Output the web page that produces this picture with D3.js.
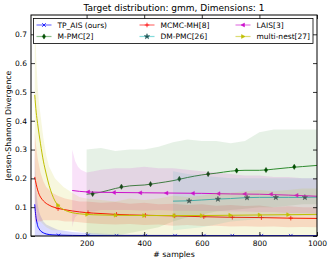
<!DOCTYPE html>
<html>
<head>
<meta charset="utf-8">
<script src="https://cdn.jsdelivr.net/npm/d3@7"></script>
<style>
  body { margin: 0; background: #fff; }
  text { font-family: "DejaVu Sans", sans-serif; }
</style>
</head>
<body>
<script>
// data

var tpX = [20, 22, 25, 28, 30, 35, 40, 50, 60, 70, 80, 100, 150, 200, 300, 400, 500, 600, 700, 800, 900, 1000];
var tpY = [0.11, 0.085, 0.06, 0.045, 0.036, 0.025, 0.018, 0.011, 0.007, 0.005, 0.004, 0.003, 0.002, 0.0015, 0.001, 0.001, 0.001, 0.001, 0.001, 0.001, 0.001, 0.001];
var tpBandX = [20, 22, 25, 30, 35, 40, 50, 60, 80, 100, 150, 200, 300, 400, 500, 1000];
var tpUp = [0.3, 0.22, 0.16, 0.11, 0.085, 0.07, 0.05, 0.04, 0.03, 0.022, 0.014, 0.01, 0.006, 0.005, 0.004, 0.003];
var tpLo = [0, 0, 0, 0, 0, 0, 0, 0, 0, 0, 0, 0, 0, 0, 0, 0];
var tpMarkX = [103, 204, 304, 404, 507, 607, 706, 807, 909];
var tpMarkY = [0.002, 0.0015, 0.001, 0.001, 0.001, 0.001, 0.001, 0.001, 0.001];

var mpmcX = [200, 250, 300, 350, 400, 450, 500, 550, 600, 650, 700, 750, 800, 850, 900, 950, 1000];
var mpmcY = [0.145, 0.152, 0.165, 0.174, 0.177, 0.184, 0.192, 0.203, 0.212, 0.218, 0.225, 0.228, 0.228, 0.232, 0.237, 0.241, 0.245];
var mpmcUp = [0.30, 0.305, 0.295, 0.3, 0.3, 0.31, 0.325, 0.335, 0.33, 0.33, 0.322, 0.33, 0.36, 0.37, 0.37, 0.37, 0.37];
var mpmcLo = [0.0, 0.0, 0.0, 0.01, 0.02, 0.03, 0.05, 0.065, 0.075, 0.085, 0.09, 0.095, 0.1, 0.1, 0.105, 0.11, 0.11];
var mpmcMarkX = [221, 321, 422, 522, 622, 721, 823, 921];
var mpmcMarkY = [0.146, 0.171, 0.18, 0.198, 0.215, 0.227, 0.229, 0.24];

var mcmcX = [20, 25, 30, 35, 40, 50, 60, 70, 80, 90, 100, 120, 150, 200, 250, 300, 400, 500, 600, 700, 800, 900, 1000];
var mcmcY = [0.205, 0.18, 0.16, 0.145, 0.135, 0.122, 0.113, 0.107, 0.102, 0.099, 0.096, 0.092, 0.087, 0.081, 0.078, 0.075, 0.072, 0.07, 0.067, 0.065, 0.064, 0.062, 0.061];
var mcmcBandX = [20, 25, 30, 40, 50, 60, 80, 100, 125, 150, 175, 200, 250, 300, 350, 400, 450, 500, 550, 600, 650, 700, 750, 800, 850, 900, 950, 1000];
var mcmcUp = [0.36, 0.31, 0.27, 0.22, 0.19, 0.17, 0.15, 0.14, 0.13, 0.125, 0.12, 0.12, 0.115, 0.118, 0.112, 0.115, 0.11, 0.112, 0.108, 0.11, 0.105, 0.108, 0.104, 0.106, 0.1, 0.103, 0.1, 0.1];
var mcmcLo = [0.05, 0.05, 0.05, 0.05, 0.055, 0.055, 0.055, 0.055, 0.05, 0.05, 0.048, 0.045, 0.042, 0.04, 0.042, 0.038, 0.04, 0.036, 0.038, 0.035, 0.036, 0.033, 0.034, 0.032, 0.033, 0.03, 0.031, 0.03];
var mcmcMarkX = [101, 205, 304, 404, 506, 607, 706, 807, 909];
var mcmcMarkY = [0.095, 0.081, 0.075, 0.072, 0.07, 0.067, 0.065, 0.064, 0.062];

var dmX = [500, 550, 600, 650, 700, 750, 800, 850, 900, 950, 1000];
var dmY = [0.121, 0.122, 0.125, 0.128, 0.13, 0.133, 0.134, 0.134, 0.134, 0.134, 0.135];
var dmUp = [0.225, 0.215, 0.21, 0.205, 0.2, 0.2, 0.2, 0.2, 0.2, 0.2, 0.2];
var dmLo = [0.02, 0.025, 0.03, 0.04, 0.05, 0.055, 0.06, 0.065, 0.068, 0.07, 0.07];
var dmMarkX = [556, 656, 757, 857, 958];
var dmMarkY = [0.122, 0.128, 0.133, 0.134, 0.134];

var laisX = [150, 200, 300, 400, 500, 600, 700, 800, 900, 1000];
var laisY = [0.158, 0.153, 0.151, 0.150, 0.149, 0.148, 0.146, 0.145, 0.142, 0.138];
var laisBandX = [150, 155, 160, 170, 180, 200, 225, 250, 300, 350, 400, 450, 500, 550, 600, 650, 700, 750, 800, 850, 900, 950, 1000];
var laisUp = [0.30, 0.28, 0.26, 0.24, 0.23, 0.22, 0.225, 0.23, 0.235, 0.235, 0.24, 0.235, 0.235, 0.23, 0.225, 0.22, 0.215, 0.21, 0.21, 0.205, 0.205, 0.2, 0.2];
var laisLo = [0.03, 0.05, 0.065, 0.075, 0.08, 0.085, 0.085, 0.09, 0.09, 0.09, 0.088, 0.09, 0.088, 0.088, 0.087, 0.087, 0.085, 0.085, 0.083, 0.083, 0.08, 0.08, 0.078];
var laisMarkX = [205, 295, 386, 477, 569, 658, 749, 840, 929];
var laisMarkY = [0.153, 0.151, 0.150, 0.149, 0.148, 0.147, 0.146, 0.145, 0.141];

var mnX = [20, 25, 30, 40, 50, 60, 70, 80, 90, 100, 120, 150, 200, 250, 300, 400, 500, 600, 700, 800, 900, 1000];
var mnY = [0.49, 0.43, 0.39, 0.32, 0.26, 0.215, 0.175, 0.145, 0.122, 0.107, 0.092, 0.081, 0.075, 0.073, 0.072, 0.071, 0.071, 0.071, 0.072, 0.073, 0.074, 0.075];
var mnBandX = [20, 25, 30, 35, 40, 50, 60, 70, 80, 90, 100, 120, 150, 175, 200, 250, 300, 350, 400, 450, 500, 550, 600, 650, 700, 750, 800, 850, 900, 950, 1000];
var mnUp = [0.85, 0.62, 0.52, 0.46, 0.42, 0.34, 0.28, 0.24, 0.22, 0.2, 0.19, 0.17, 0.15, 0.135, 0.13, 0.125, 0.12, 0.13, 0.125, 0.13, 0.14, 0.135, 0.14, 0.15, 0.15, 0.155, 0.16, 0.155, 0.16, 0.165, 0.165];
var mnLo = [0.13, 0.1, 0.08, 0.06, 0.05, 0.04, 0.03, 0.025, 0.02, 0.02, 0.02, 0.02, 0.02, 0.015, 0.01, 0.005, 0.003, 0.003, 0.003, 0.003, 0.003, 0.003, 0.003, 0.003, 0.003, 0.003, 0.003, 0.003, 0.003, 0.003, 0.003];
var mnMarkX = [101, 202, 301, 400, 505, 600, 699, 801, 900];
var mnMarkY = [0.107, 0.075, 0.072, 0.071, 0.071, 0.071, 0.072, 0.073, 0.074];

var xTicks = [200, 400, 600, 800, 1000];
var yTicks = [0.0, 0.1, 0.2, 0.3, 0.4, 0.5, 0.6, 0.7];

// plotting order = matplotlib order (legend fills column first)
var series = [
    { name: "TP_AIS (ours)", color: "#0000ff", mark: "#0000ff", sym: "x", x: tpX, y: tpY, bx: tpBandX, up: tpUp, lo: tpLo, mx: tpMarkX, my: tpMarkY, alpha: 0.15 },
    { name: "M-PMC[2]", color: "#2e8b2e", mark: "#004d00", sym: "d", x: mpmcX, y: mpmcY, bx: mpmcX, up: mpmcUp, lo: mpmcLo, mx: mpmcMarkX, my: mpmcMarkY, alpha: 0.12 },
    { name: "MCMC-MH[8]", color: "#ff0000", mark: "#ff0000", sym: "+", x: mcmcX, y: mcmcY, bx: mcmcBandX, up: mcmcUp, lo: mcmcLo, mx: mcmcMarkX, my: mcmcMarkY, alpha: 0.13 },
    { name: "DM-PMC[26]", color: "#1fbfbf", mark: "#1d5555", sym: "*", x: dmX, y: dmY, bx: dmX, up: dmUp, lo: dmLo, mx: dmMarkX, my: dmMarkY, alpha: 0.12 },
    { name: "LAIS[3]", color: "#cc11cc", mark: "#cc11cc", sym: "<", x: laisX, y: laisY, bx: laisBandX, up: laisUp, lo: laisLo, mx: laisMarkX, my: laisMarkY, alpha: 0.12 },
    { name: "multi-nest[27]", color: "#bfbf00", mark: "#bfbf00", sym: ">", x: mnX, y: mnY, bx: mnBandX, up: mnUp, lo: mnLo, mx: mnMarkX, my: mnMarkY, alpha: 0.13 }
];

var W = 332, H = 263;
var margin = { top: 15, right: 15, bottom: 27, left: 31 };
var w = W - margin.left - margin.right;
var h = H - margin.top - margin.bottom;

var svg = d3.select("body")
    .append("svg")
    .attr("width", W)
    .attr("height", H);

var g = svg.append("g")
    .attr("transform", "translate(" + margin.left + "," + margin.top + ")");

var xScale = d3.scaleLinear().domain([7, 1000]).range([0, w]);
var yScale = d3.scaleLinear().domain([0, 0.767]).range([h, 0]);

g.append("clipPath").attr("id", "clip")
    .append("rect").attr("width", w).attr("height", h);

var plot = g.append("g").attr("clip-path", "url(#clip)");

function markerPath(sym) {
    if (sym == "x") return "M-1.8,-1.8L1.8,1.8M-1.8,1.8L1.8,-1.8";
    if (sym == "+") return "M-2.3,0L2.3,0M0,-2.3L0,2.3";
    if (sym == "d") return "M0,-2.6L1.6,0L0,2.6L-1.6,0Z";
    if (sym == "<") return "M-2,0L1.5,-1.9L1.5,1.9Z";
    if (sym == ">") return "M2,0L-1.5,-1.9L-1.5,1.9Z";
    if (sym == "*") return d3.symbol().type(d3.symbolStar).size(9)();
}

function drawMarker(sel, s) {
    var filled = s.sym != "x" && s.sym != "+";
    sel.append("path")
        .attr("d", markerPath(s.sym))
        .attr("fill", filled ? s.mark : "none")
        .attr("stroke", s.mark)
        .attr("stroke-width", filled ? 0.5 : 0.8);
}

series.forEach(function (s) {
    var band = s.bx.map(function (d, i) { return { x: d, up: s.up[i], lo: s.lo[i] }; });
    plot.append("path")
        .datum(band)
        .attr("fill", s.color)
        .attr("fill-opacity", s.alpha)
        .attr("d", d3.area()
            .x(function (d) { return xScale(d.x); })
            .y0(function (d) { return yScale(d.lo); })
            .y1(function (d) { return yScale(d.up); }));

    var pts = s.x.map(function (d, i) { return [d, s.y[i]]; });
    plot.append("path")
        .datum(pts)
        .attr("fill", "none")
        .attr("stroke", s.color)
        .attr("stroke-width", 1)
        .attr("d", d3.line()
            .curve(d3.curveMonotoneX)
            .x(function (d) { return xScale(d[0]); })
            .y(function (d) { return yScale(d[1]); }));

    s.mx.forEach(function (mx, i) {
        var m = plot.append("g")
            .attr("transform", "translate(" + xScale(mx) + "," + yScale(s.my[i]) + ")");
        drawMarker(m, s);
    });
});

// axes, classic matplotlib: ticks inside on all four sides
var xAxisB = d3.axisBottom(xScale).tickValues(xTicks).tickSizeInner(-4).tickSizeOuter(0).tickPadding(5).tickFormat(d3.format("d"));
var xAxisT = d3.axisTop(xScale).tickValues(xTicks).tickSizeInner(-4).tickSizeOuter(0).tickFormat("");
var yAxisL = d3.axisLeft(yScale).tickValues(yTicks).tickSizeInner(-4).tickSizeOuter(0).tickPadding(4).tickFormat(d3.format(".1f"));
var yAxisR = d3.axisRight(yScale).tickValues(yTicks).tickSizeInner(-4).tickSizeOuter(0).tickFormat("");

g.append("g").attr("transform", "translate(0," + h + ")").call(xAxisB);
g.append("g").call(xAxisT);
g.append("g").call(yAxisL);
g.append("g").attr("transform", "translate(" + w + ",0)").call(yAxisR);

g.selectAll(".domain").remove();
g.selectAll(".tick line").attr("stroke", "#000").attr("stroke-width", 0.8);
g.selectAll(".tick text").attr("font-size", "7.5px").attr("fill", "#000");

g.append("rect")
    .attr("width", w).attr("height", h)
    .attr("fill", "none")
    .attr("stroke", "#000")
    .attr("stroke-width", 1);

// legend
var legend = g.append("g").attr("transform", "translate(2.5,3.5)");
legend.append("rect")
    .attr("width", 279.5).attr("height", 25)
    .attr("fill", "#fff")
    .attr("stroke", "#000")
    .attr("stroke-width", 0.8);

var colX = [3, 106, 202];
series.forEach(function (s, i) {
    var col = Math.floor(i / 2), row = i % 2;
    var item = legend.append("g")
        .attr("transform", "translate(" + colX[col] + "," + (6.5 + row * 11.5) + ")");
    item.append("line")
        .attr("x1", 0).attr("x2", 15)
        .attr("stroke", s.color)
        .attr("stroke-opacity", 0.55)
        .attr("stroke-width", 1.2);
    var m = item.append("g").attr("transform", "translate(7.5,0)");
    drawMarker(m, s);
    item.append("text")
        .attr("x", 21)
        .attr("y", 2.7)
        .attr("font-size", "7.5px")
        .text(s.name);
});

// titles
svg.append("text")
    .attr("x", margin.left + w / 2)
    .attr("y", 10.5)
    .attr("text-anchor", "middle")
    .attr("font-size", "9px")
    .text("Target distribution: gmm, Dimensions: 1");

svg.append("text")
    .attr("x", margin.left + w / 2)
    .attr("y", 257)
    .attr("text-anchor", "middle")
    .attr("font-size", "7.8px")
    .text("# samples");

svg.append("text")
    .attr("transform", "translate(10.5," + (margin.top + h / 2) + ") rotate(-90)")
    .attr("text-anchor", "middle")
    .attr("font-size", "7.8px")
    .text("Jensen-Shannon Divergence");
</script>
</body>
</html>
